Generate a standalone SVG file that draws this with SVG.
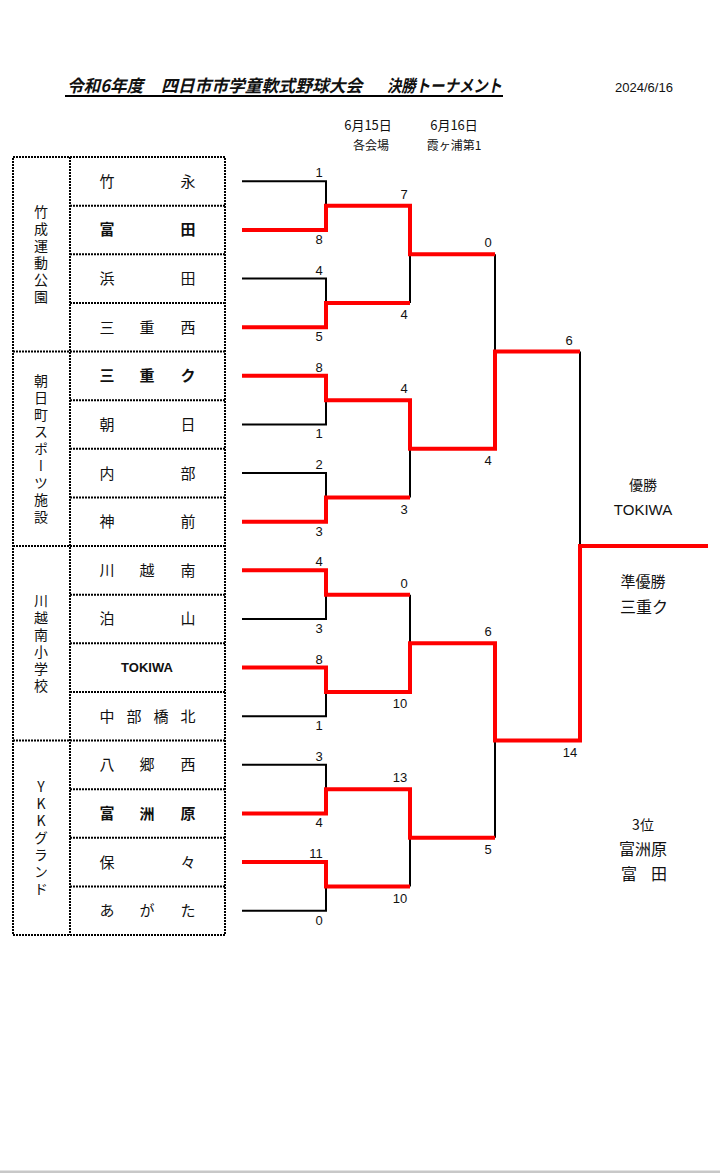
<svg xmlns="http://www.w3.org/2000/svg" width="720" height="1173" viewBox="0 0 720 1173">
<style>
.jp{font-family:"Noto Sans CJK JP","Liberation Sans",sans-serif;fill:#111}
.team{font-size:15px;text-anchor:middle}
.b{font-weight:bold}
.lat{font-family:"Liberation Sans","Noto Sans CJK JP",sans-serif;fill:#111}
.sc{font-family:"Liberation Sans",sans-serif;font-size:13px;text-anchor:middle;fill:#111}
.venue{font-size:14px;writing-mode:vertical-rl;text-orientation:upright;text-anchor:middle;letter-spacing:3px}
.dot{fill:none;stroke:#000;stroke-width:2;stroke-dasharray:2 1}
.blk{fill:none;stroke:#000;stroke-width:2;stroke-linejoin:miter}
.red{fill:none;stroke:#ff0000;stroke-width:4;stroke-linejoin:miter;stroke-linecap:butt}
.mid{text-anchor:middle}
</style>
<rect width="720" height="1173" fill="#fff"/>
<rect x="0" y="1170.5" width="720" height="2.5" fill="#c8c8c8"/>

<g id="header">
<text class="jp b" x="67" y="92" font-size="17" font-style="italic"><tspan x="67" textLength="80" lengthAdjust="spacingAndGlyphs">令和6年度 </tspan><tspan x="161" textLength="205" lengthAdjust="spacingAndGlyphs">四日市市学童軟式野球大会 </tspan><tspan x="387" textLength="115" lengthAdjust="spacingAndGlyphs">決勝トーナメント</tspan></text>
<line x1="65" y1="96" x2="503" y2="96" stroke="#000" stroke-width="2"/>
<text class="lat" x="615" y="92" font-size="12" textLength="58" lengthAdjust="spacingAndGlyphs">2024/6/16</text>
<text class="jp mid" x="368" y="130" font-size="13">6月15日</text>
<text class="jp mid" x="371" y="150" font-size="12">各会場</text>
<text class="jp mid" x="454" y="130" font-size="13">6月16日</text>
<text class="jp mid" x="454" y="150" font-size="12">霞ヶ浦第1</text>
</g>

<g id="table">
<rect class="dot" x="13" y="157" width="212" height="778"/>
<line class="dot" x1="70" y1="157" x2="70" y2="935"/>
<path class="dot" d="M70 205.63H225M70 254.25H225M70 302.88H225M13 351.5H225M70 400.13H225M70 448.75H225M70 497.38H225M13 546H225M70 594.63H225M70 643.25H225M70 691.88H225M13 740.5H225M70 789.13H225M70 837.75H225M70 886.38H225"/>
</g>

<g id="venues">
<text class="jp venue" x="41" y="255.5">竹成運動公園</text>
<text class="jp venue" x="41" y="450">朝日町スポーツ施設</text>
<text class="jp venue" x="41" y="644.5">川越南小学校</text>
<text class="jp venue" x="41" y="839">YKKグランド</text>
</g>

<g id="teams">
<g id="t1"><text class="jp team" y="186.8"><tspan x="107">竹</tspan><tspan x="188">永</tspan></text></g>
<g id="t2"><text class="jp team b" y="235.4"><tspan x="107">富</tspan><tspan x="188">田</tspan></text></g>
<g id="t3"><text class="jp team" y="284.1"><tspan x="107">浜</tspan><tspan x="188">田</tspan></text></g>
<g id="t4"><text class="jp team" y="332.7"><tspan x="107">三</tspan><tspan x="147">重</tspan><tspan x="188">西</tspan></text></g>
<g id="t5"><text class="jp team b" y="381.3"><tspan x="107">三</tspan><tspan x="147">重</tspan><tspan x="188">ク</tspan></text></g>
<g id="t6"><text class="jp team" y="429.9"><tspan x="107">朝</tspan><tspan x="188">日</tspan></text></g>
<g id="t7"><text class="jp team" y="478.6"><tspan x="107">内</tspan><tspan x="188">部</tspan></text></g>
<g id="t8"><text class="jp team" y="527.2"><tspan x="107">神</tspan><tspan x="188">前</tspan></text></g>
<g id="t9"><text class="jp team" y="575.8"><tspan x="107">川</tspan><tspan x="147">越</tspan><tspan x="188">南</tspan></text></g>
<g id="t10"><text class="jp team" y="624.4"><tspan x="107">泊</tspan><tspan x="188">山</tspan></text></g>
<g id="t11"><text class="lat b" x="147" y="672.3" font-size="13" text-anchor="middle">TOKIWA</text></g>
<g id="t12"><text class="jp team" y="721.7"><tspan x="107">中</tspan><tspan x="134">部</tspan><tspan x="161">橋</tspan><tspan x="188">北</tspan></text></g>
<g id="t13"><text class="jp team" y="770.3"><tspan x="107">八</tspan><tspan x="147">郷</tspan><tspan x="188">西</tspan></text></g>
<g id="t14"><text class="jp team b" y="818.9"><tspan x="107">富</tspan><tspan x="147">洲</tspan><tspan x="188">原</tspan></text></g>
<g id="t15"><text class="jp team" y="867.6"><tspan x="107">保</tspan><tspan x="188">々</tspan></text></g>
<g id="t16"><text class="jp team" y="916.2"><tspan x="107">あ</tspan><tspan x="147">が</tspan><tspan x="188">た</tspan></text></g>
</g>

<g id="connectors">
<path class="blk" d="M242 181.31H326V205.63M242 278.56H326V302.88M242 424.44H326V400.13M242 473.06H326V497.38M242 618.94H326V594.63M242 716.19H326V691.88M242 764.81H326V789.13M242 910.69H326V886.38"/>
<path class="blk" d="M410 302.88V254.25M410 497.38V448.75M410 594.63V643.25M410 886.38V837.75M495 254.25V351.5M495 837.75V740.5M580 351.5V546"/>
<path class="red" d="M242 229.94H326V205.63H410V254.25H495"/>
<path class="red" d="M242 327.19H326V302.88H410"/>
<path class="red" d="M242 375.81H326V400.13H410V448.75H495V351.5H580"/>
<path class="red" d="M242 521.69H326V497.38H410"/>
<path class="red" d="M242 570.31H326V594.63H410"/>
<path class="red" d="M242 667.56H326V691.88H410V643.25H495V740.5H580V546H708"/>
<path class="red" d="M242 813.44H326V789.13H410V837.75H495"/>
<path class="red" d="M242 862.06H326V886.38H410"/>
</g>

<g id="scores">
<text class="sc" x="319" y="177.3">1</text><text class="sc" x="319" y="243.9">8</text>
<text class="sc" x="319" y="274.6">4</text><text class="sc" x="319" y="341.2">5</text>
<text class="sc" x="319" y="371.8">8</text><text class="sc" x="319" y="438.4">1</text>
<text class="sc" x="319" y="469.1">2</text><text class="sc" x="319" y="535.7">3</text>
<text class="sc" x="319" y="566.3">4</text><text class="sc" x="319" y="632.9">3</text>
<text class="sc" x="319" y="663.6">8</text><text class="sc" x="319" y="730.2">1</text>
<text class="sc" x="319" y="760.8">3</text><text class="sc" x="319" y="827.4">4</text>
<text class="sc" x="316" y="858.1">11</text><text class="sc" x="319" y="924.7">0</text>
<text class="sc" x="404" y="198.6">7</text><text class="sc" x="404" y="319.4">4</text>
<text class="sc" x="404" y="393.1">4</text><text class="sc" x="404" y="513.9">3</text>
<text class="sc" x="404" y="587.6">0</text><text class="sc" x="400" y="708.4">10</text>
<text class="sc" x="400" y="782.1">13</text><text class="sc" x="400" y="902.9">10</text>
<text class="sc" x="488" y="247.3">0</text><text class="sc" x="488" y="465.3">4</text>
<text class="sc" x="488" y="636.3">6</text><text class="sc" x="488" y="854.3">5</text>
<text class="sc" x="569" y="344.5">6</text><text class="sc" x="570" y="757">14</text>
</g>

<g id="results">
<text class="jp mid" x="643" y="490" font-size="14">優勝</text>
<text class="lat mid" x="643" y="514.5" font-size="15">TOKIWA</text>
<text class="jp mid" x="643" y="587" font-size="15">準優勝</text>
<text class="jp mid" x="644" y="613" font-size="16">三重ク</text>
<text class="jp mid" x="643" y="830" font-size="14">3位</text>
<text class="jp mid" x="643" y="855" font-size="16">富洲原</text>
<text class="jp mid" y="880" font-size="16"><tspan x="629">富</tspan><tspan x="659">田</tspan></text>
</g>
</svg>
